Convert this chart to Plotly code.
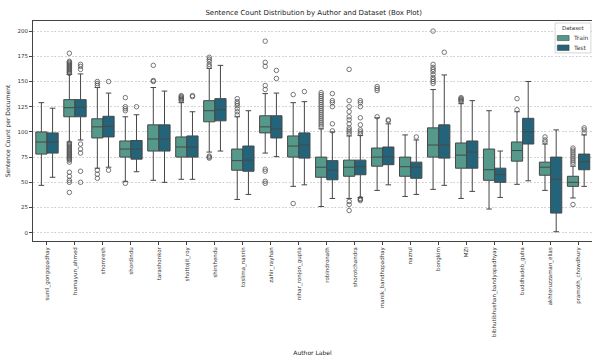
import plotly.graph_objects as go

authors = ["sunil_gongopadhay", "humayun_ahmed", "shomresh", "shordindu", "tarashonkor",
           "shottojit_roy", "shirshendu", "toslima_nasrin", "zahir_rayhan", "nihar_ronjon_gupta",
           "robindronath", "shorotchandra", "manik_bandhopadhay", "nazrul", "bongkim",
           "MZI", "bibhutibhushan_bandyopadhyay", "buddhadeb_guha", "akhteruzzaman_elias", "pramoth_chowdhury"]

datasets = ["Train", "Test"]

# Train statistics
train_q1 = [78, 115, 94, 75, 81, 75, 110, 62, 99, 75, 55, 56, 66, 56, 75, 64, 52, 71, 57, 46]
train_med = [90, 124, 105, 83, 93, 85, 121, 71.5, 105, 86, 65, 65, 75, 65.5, 87, 77, 62.5, 81.5, 65, 50]
train_q3 = [100, 132, 113, 91, 107, 95, 131, 83, 116, 96, 75, 72, 84, 75, 104, 89, 83, 90, 70, 56]
train_lo = [47, 90, 64, 51, 52, 53, 80, 33, 79, 46, 26, 34, 42, 36, 43, 34, 23.5, 48, 42, 34.5]
train_hi = [129, 157, 144, 115, 144, 129, 163, 115, 138, 129, 103, 96, 114, 97, 142, 128, 121, 120, 88, 66]
train_out = [
    [],
    [158, 159, 160, 161, 162, 163, 164, 165, 166, 167, 168, 169, 170, 178,
     89, 88, 87, 86, 85, 84, 83, 82, 81, 80, 79, 78, 77, 76, 75, 74, 73, 72, 70, 60, 56, 52, 50, 40],
    [146, 148, 150, 62, 58, 54],
    [121, 123, 125, 134, 49],
    [150, 151, 166],
    [131, 132, 133, 134, 135, 136],
    [165, 167, 170, 172, 174, 74, 75, 76],
    [117, 120, 123, 126, 128, 130, 133],
    [142, 146, 165, 169, 190, 63, 61, 51, 49],
    [137, 29],
    [105, 107, 109, 111, 113, 115, 117, 119, 121, 123, 125, 127, 129, 131, 133, 135, 137, 139],
    [98, 100, 102, 104, 108, 112, 115, 120, 125, 131, 162, 31, 28, 22],
    [115, 141, 143, 145],
    [],
    [148, 150, 152, 154, 157, 160, 162, 164, 167, 200],
    [130, 131, 132, 133, 134],
    [],
    [122, 133],
    [90, 92, 95],
    [68, 70, 72, 74, 76, 78, 80, 82, 84, 28],
]

# Test statistics
test_q1 = [79, 115, 95, 73, 81, 75, 111, 61, 94, 74, 52.5, 57.5, 67.5, 54, 74, 64, 50, 88, 19.5, 62.5]
test_med = [90, 124.5, 105.5, 83, 93, 85, 122, 72, 103, 87, 62, 65.5, 75.5, 65, 87, 80, 57.5, 100, 53, 70.5]
test_q3 = [99, 132, 115.5, 91.5, 107, 96, 133, 86, 116, 99, 71.5, 72, 85, 70, 107, 91, 64, 113.5, 75, 78]
test_lo = [55, 92, 65, 60.5, 50, 53, 81, 38, 75.5, 47.5, 34, 35, 47.5, 38, 47, 41, 35, 51.5, 1, 46]
test_hi = [123.5, 157.5, 138.5, 117, 140.5, 120, 166, 121, 138.5, 130, 100, 96.5, 108, 92, 156.5, 131, 81, 150, 102, 97]
test_out = [
    [],
    [162, 165, 167, 88, 83, 79, 61, 50],
    [150, 62],
    [125],
    [],
    [135, 136],
    [],
    [],
    [153, 161],
    [140],
    [101, 108, 125, 129, 131, 138],
    [98, 100, 102, 107, 114, 125, 129, 131, 34, 33, 32],
    [111, 112],
    [95],
    [179],
    [],
    [],
    [],
    [],
    [99, 102, 104],
]

train_color = "#55998b"
test_color = "#24647b"
edge = "#474747"
text_color = "#222222"

idx = list(range(len(authors)))
fig = go.Figure()

fig.add_trace(go.Box(
    name=datasets[0], x=[i - 0.2 for i in idx],
    q1=train_q1, median=train_med, q3=train_q3,
    lowerfence=train_lo, upperfence=train_hi,
    width=0.4, whiskerwidth=0.5, fillcolor=train_color,
    line=dict(color=edge, width=1), boxpoints=False, hoverinfo="skip",
))
fig.add_trace(go.Box(
    name=datasets[1], x=[i + 0.2 for i in idx],
    q1=test_q1, median=test_med, q3=test_q3,
    lowerfence=test_lo, upperfence=test_hi,
    width=0.4, whiskerwidth=0.5, fillcolor=test_color,
    line=dict(color=edge, width=1), boxpoints=False, hoverinfo="skip",
))

for outs, off in ((train_out, -0.2), (test_out, 0.2)):
    xs, ys = [], []
    for i, lst in enumerate(outs):
        for v in lst:
            xs.append(i + off)
            ys.append(v)
    fig.add_trace(go.Scatter(
        x=xs, y=ys, mode="markers", showlegend=False, hoverinfo="skip",
        marker=dict(symbol="circle-open", size=4.5, color="#555555", line=dict(width=0.8)),
    ))

# Compact legend drawn in the top-right corner of the plot
shapes = [
    dict(type="rect", xref="paper", yref="paper", x0=0.934, x1=0.998, y0=0.855, y1=0.991,
         line=dict(color="#cccccc", width=0.8), fillcolor="rgba(255,255,255,0.9)", layer="above"),
    dict(type="rect", xref="paper", yref="paper", x0=0.938, x1=0.959, y0=0.911, y1=0.934,
         line=dict(color=edge, width=0.6), fillcolor=train_color, layer="above"),
    dict(type="rect", xref="paper", yref="paper", x0=0.938, x1=0.959, y0=0.866, y1=0.891,
         line=dict(color=edge, width=0.6), fillcolor=test_color, layer="above"),
]
annotations = [
    dict(text="Dataset", xref="paper", yref="paper", x=0.966, y=0.966, showarrow=False,
         xanchor="center", yanchor="middle", font=dict(size=5.5, color="#333333")),
    dict(text=datasets[0], xref="paper", yref="paper", x=0.963, y=0.923, showarrow=False,
         xanchor="left", yanchor="middle", font=dict(size=6, color="#333333")),
    dict(text=datasets[1], xref="paper", yref="paper", x=0.963, y=0.879, showarrow=False,
         xanchor="left", yanchor="middle", font=dict(size=6, color="#333333")),
]

fig.update_layout(
    width=592, height=358,
    margin=dict(l=33, r=0, t=21, b=117),
    paper_bgcolor="white", plot_bgcolor="white",
    font=dict(family="DejaVu Sans", size=6, color=text_color),
    title=dict(text="Sentence Count Distribution by Author and Dataset (Box Plot)",
               x=0.53, xanchor="center", y=0.965, yanchor="middle",
               font=dict(size=7, color=text_color)),
    showlegend=False,
    shapes=shapes, annotations=annotations,
    xaxis=dict(
        range=[-0.5, 19.48], tickmode="array", tickvals=idx, ticktext=authors,
        tickangle=-90, tickfont=dict(size=5.5, color="#333333"),
        showline=True, linecolor="#444444", linewidth=1, mirror=True,
        ticks="outside", ticklen=3, tickcolor="#444444", showgrid=False, zeroline=False,
        automargin=False,
        title=dict(text="Author Label", font=dict(size=6, color=text_color), standoff=14),
    ),
    yaxis=dict(
        range=[-8.2, 210], tickvals=[0, 25, 50, 75, 100, 125, 150, 175, 200],
        tickfont=dict(size=5.5, color="#333333"),
        showline=True, linecolor="#444444", linewidth=1,
        ticks="outside", ticklen=3, tickcolor="#444444",
        showgrid=True, gridcolor="#d4d4d4", griddash="2px,1.5px", gridwidth=0.7, zeroline=False,
        automargin=False,
        title=dict(text="Sentence Count per Document", font=dict(size=6, color=text_color), standoff=6),
    ),
)

fig.write_html("out.html", config={"displayModeBar": False},
               post_script="document.body.style.margin='0px';")
